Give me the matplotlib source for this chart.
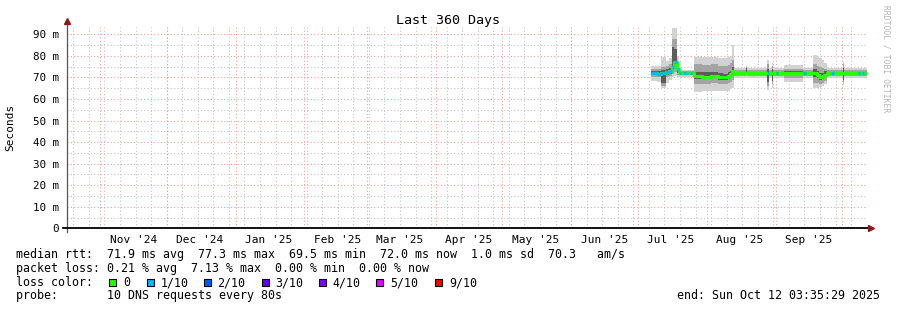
import matplotlib

matplotlib.use("Agg")
import matplotlib.pyplot as plt
import matplotlib.dates as mdates
from matplotlib.patches import Rectangle
import pandas as pd

plt.rcParams["font.family"] = ["DejaVu Sans Mono"]

START = pd.Timestamp("2024-10-17 03:35:29")
END = pd.Timestamp("2025-10-12 03:35:29")

# step data: each value holds from seg_start[i] until seg_start[i+1] (ms)
seg_start = [
    "2025-07-07 00", "2025-07-09 12", "2025-07-11 12", "2025-07-13 12", "2025-07-15 00",
    "2025-07-16 12", "2025-07-17 12", "2025-07-18 12", "2025-07-19 12", "2025-07-20 12",
    "2025-07-21 12", "2025-07-22 12", "2025-07-23 00", "2025-07-23 12", "2025-07-24 12",
    "2025-07-25 12", "2025-07-26 12", "2025-07-30 00", "2025-08-03 00", "2025-08-06 00",
    "2025-08-08 12", "2025-08-10 12", "2025-08-11 12", "2025-08-12 12", "2025-08-13 12",
    "2025-08-18 12", "2025-08-19 00", "2025-08-28 00", "2025-08-29 00", "2025-08-30 12",
    "2025-08-31 00", "2025-09-01 06", "2025-09-02 00", "2025-09-05 00", "2025-09-13 12",
    "2025-09-14 12", "2025-09-18 00", "2025-09-19 12", "2025-09-20 12", "2025-09-22 00",
    "2025-09-23 00", "2025-09-24 00", "2025-09-26 00", "2025-09-27 12", "2025-10-01 12",
    "2025-10-02 00", "2025-10-08 00", "2025-10-09 00", "2025-10-10 00", "2025-10-10 18",
]
median = [
    71.9, 71.8, 71.9, 72.6, 73.0, 75.0, 77.3, 74.0, 72.2, 72.2,
    72.2, 72.2, 72.2, 72.2, 72.1, 72.1, 70.6, 70.4, 70.7, 70.3,
    70.0, 70.6, 71.5, 72.8, 72.2, 72.2, 72.1, 72.0, 72.1, 72.1,
    72.0, 72.0, 72.0, 71.9, 72.0, 72.0, 72.0, 71.0, 70.3, 70.7,
    71.3, 71.9, 71.9, 72.0, 72.0, 71.9, 71.9, 71.9, 71.9, 71.9,
]
loss = [
    1, 1, 1, 1, 1, 1, 1, 1, 1, 0,
    1, 0, 1, 0, 1, 0, 0, 0, 0, 0,
    0, 0, 0, 0, 0, 0, 0, 1, 0, 0,
    0, 1, 0, 0, 1, 0, 0, 0, 0, 0,
    0, 0, 1, 0, 0, 0, 1, 0, 1, 0,
]
# smoke: outer (min/max), middle and core ping ranges
ping_lo = [
    68.5, 68.0, 65.0, 67.5, 69.0, 70.0, 70.5, 70.0, 70.3, 70.3,
    70.3, 70.3, 70.3, 70.3, 70.3, 70.3, 63.4, 63.6, 63.8, 63.5,
    63.6, 63.8, 64.5, 65.0, 69.6, 69.6, 69.6, 64.0, 69.6, 65.0,
    69.6, 69.6, 69.6, 68.0, 69.6, 69.6, 65.0, 65.2, 65.5, 66.0,
    67.0, 69.5, 69.6, 69.6, 66.5, 69.6, 69.6, 69.6, 69.6, 69.6,
]
ping_hi = [
    75.2, 75.5, 79.6, 77.5, 79.0, 92.8, 92.8, 80.0, 73.5, 73.5,
    73.5, 73.5, 73.5, 73.5, 73.5, 73.5, 79.6, 79.4, 79.6, 79.0,
    79.2, 79.5, 80.0, 85.0, 74.2, 75.5, 74.2, 78.0, 74.2, 76.8,
    74.2, 74.2, 74.2, 75.8, 74.2, 74.2, 80.4, 80.0, 79.0, 78.0,
    76.5, 74.5, 74.2, 74.2, 77.3, 74.2, 74.2, 74.2, 74.2, 74.2,
]
mid_lo = [
    70.2, 70.0, 66.0, 70.0, 70.5, 71.5, 72.5, 71.0, 71.0, 71.0,
    71.0, 71.0, 71.0, 71.0, 71.0, 71.0, 67.0, 67.0, 67.3, 67.0,
    67.0, 67.2, 68.0, 69.0, 70.5, 71.0, 70.5, 66.0, 70.5, 67.0,
    70.5, 70.5, 70.5, 69.5, 70.5, 70.5, 67.5, 67.5, 67.0, 67.5,
    68.5, 70.5, 70.5, 70.5, 68.0, 70.5, 70.5, 70.5, 70.5, 70.5,
]
mid_hi = [
    73.8, 74.0, 75.0, 75.5, 76.0, 88.0, 88.0, 77.0, 73.0, 73.0,
    73.0, 73.0, 73.0, 73.0, 73.0, 73.0, 76.0, 75.8, 76.0, 75.5,
    75.5, 75.8, 76.5, 78.0, 73.3, 75.0, 73.3, 76.0, 73.3, 75.5,
    73.3, 73.3, 73.3, 74.0, 73.3, 73.3, 76.0, 75.5, 75.0, 74.5,
    74.0, 73.5, 73.3, 73.3, 76.0, 73.3, 73.3, 73.3, 73.3, 73.3,
]
core_lo = [
    71.0, 71.0, 67.5, 71.0, 71.5, 72.5, 74.0, 72.0, 71.6, 71.6,
    71.6, 71.6, 71.6, 71.6, 71.6, 71.6, 69.3, 69.2, 69.5, 69.0,
    68.8, 69.3, 70.0, 71.0, 71.6, 71.5, 71.6, 68.0, 71.6, 68.5,
    71.6, 71.6, 71.6, 71.0, 71.6, 71.6, 70.0, 69.5, 68.8, 69.2,
    70.0, 71.3, 71.6, 71.6, 69.0, 71.6, 71.6, 71.6, 71.6, 71.6,
]
core_hi = [
    72.8, 73.0, 73.5, 74.0, 74.5, 84.0, 83.0, 75.0, 72.6, 72.6,
    72.6, 72.6, 72.6, 72.6, 72.6, 72.6, 72.5, 72.3, 72.5, 72.0,
    71.8, 72.3, 73.0, 75.0, 72.7, 74.5, 72.7, 74.0, 72.7, 74.0,
    72.7, 72.7, 72.7, 73.0, 72.7, 72.7, 74.0, 73.0, 72.0, 72.2,
    72.8, 72.6, 72.7, 72.7, 74.5, 72.7, 72.7, 72.7, 72.7, 72.7,
]

loss_labels = ["0", "1/10", "2/10", "3/10", "4/10", "5/10", "9/10"]
loss_colors = ["#26ff00", "#00b8ff", "#0059ff", "#5e00ff", "#7e00ff", "#dd00ff", "#ff0000"]

legend_lines = [
    "median rtt:  71.9 ms avg  77.3 ms max  69.5 ms min  72.0 ms now  1.0 ms sd  70.3   am/s",
    "packet loss: 0.21 % avg  7.13 % max  0.00 % min  0.00 % now",
    "loss color:",
    "probe:       10 DNS requests every 80s",
]
end_text = "end: Sun Oct 12 03:35:29 2025"

W, H = 897, 310
fig = plt.figure(figsize=(W / 100, H / 100), dpi=100)
ax = fig.add_axes([67 / W, (H - 228.4) / H, 800 / W, 201.7 / H])

t = pd.to_datetime(seg_start, format="%Y-%m-%d %H").append(pd.DatetimeIndex([END]))
def ext(v):
    return list(v) + [v[-1]]

ax.fill_between(t, ext(ping_lo), ext(ping_hi), step="post", color="#d2d2d2", lw=0, zorder=3)
ax.fill_between(t, ext(mid_lo), ext(mid_hi), step="post", color="#a4a4a4", lw=0, zorder=4)
ax.fill_between(t, ext(core_lo), ext(core_hi), step="post", color="#5c5c5c", lw=0, zorder=5)

ax.step(t, ext(median), where="post", color=loss_colors[0], lw=2.3, zorder=6, solid_capstyle="butt")
for i, l in enumerate(loss):
    if l:
        ax.plot([t[i], t[i + 1]], [median[i], median[i]], color=loss_colors[l], lw=2.3,
                zorder=7, solid_capstyle="butt")

ax.set_xlim(START, END)
ax.set_ylim(0, 93.5)

# grid: weekly grey, monthly red; 5 m grey, 10 m red
for d in pd.date_range("2024-10-20", END, freq="7D"):
    ax.axvline(d, color="#c4c4c4", lw=0.8, ls=(0, (1, 2)), zorder=1)
for d in pd.date_range("2024-11-01", END, freq="MS"):
    ax.axvline(d, color="#f0a0a0", lw=0.8, ls=(0, (1, 2)), zorder=2)
for v in range(5, 95, 10):
    ax.axhline(v, color="#c4c4c4", lw=0.8, ls=(0, (1, 2)), zorder=1)
for v in range(10, 100, 10):
    ax.axhline(v, color="#f0a0a0", lw=0.8, ls=(0, (1, 2)), zorder=2)

ax.xaxis.set_major_locator(mdates.MonthLocator(bymonthday=16))
ax.xaxis.set_major_formatter(mdates.DateFormatter("%b '%y"))
ax.set_yticks(range(0, 100, 10))
ax.set_yticklabels(["0"] + [f"{v} m" for v in range(10, 100, 10)])
ax.tick_params(axis="x", length=0, pad=5, labelsize=8)
ax.tick_params(axis="y", length=0, pad=6, labelsize=7.8)
ax.set_ylabel("Seconds", fontsize=8, labelpad=6)
ax.yaxis.set_label_coords(-52 / 800, 0.5)

for s in ax.spines.values():
    s.set_visible(False)
ax.plot([0, 0], [-0.018, 1.02], color="#555555", lw=0.9, transform=ax.transAxes, clip_on=False, zorder=8)
ax.plot([-0.005, 1.002], [0, 0], color="black", lw=1.3, transform=ax.transAxes, clip_on=False, zorder=8)
ax.plot([0], [1.03], marker="^", ms=4, color="#8b1a1a", transform=ax.transAxes, clip_on=False, zorder=9)
ax.plot([1.005], [0], marker=">", ms=4, color="#8b1a1a", transform=ax.transAxes, clip_on=False, zorder=9)

fig.text(448 / W, 1 - 24 / H, "Last 360 Days", ha="center", va="baseline", fontsize=9.6)
fig.text(886 / W, 1 - 5 / H, "RRDTOOL / TOBI OETIKER", rotation=-90, ha="center", va="top",
         fontsize=5.8, color="#b4b4b4")

baselines = [258.3, 271.8, 286.0, 299.4]
for txt, yb in zip(legend_lines, baselines):
    fig.text(16 / W, 1 - yb / H, txt, ha="left", va="baseline", fontsize=8.4)
fig.text(880 / W, 1 - baselines[3] / H, end_text, ha="right", va="baseline", fontsize=8.4)

box_x = [109, 147, 203.5, 261.5, 318.5, 376, 435]
for bx, lab, col in zip(box_x, loss_labels, loss_colors):
    fig.add_artist(Rectangle((bx / W, (H - 286) / H), 7 / W, 7 / H, transform=fig.transFigure,
                             facecolor=col, edgecolor="black", lw=0.8))
    fig.text((bx + 14) / W, 1 - baselines[2] / H, lab, ha="left", va="baseline", fontsize=8.4)

fig.savefig("out.png", dpi=100)
